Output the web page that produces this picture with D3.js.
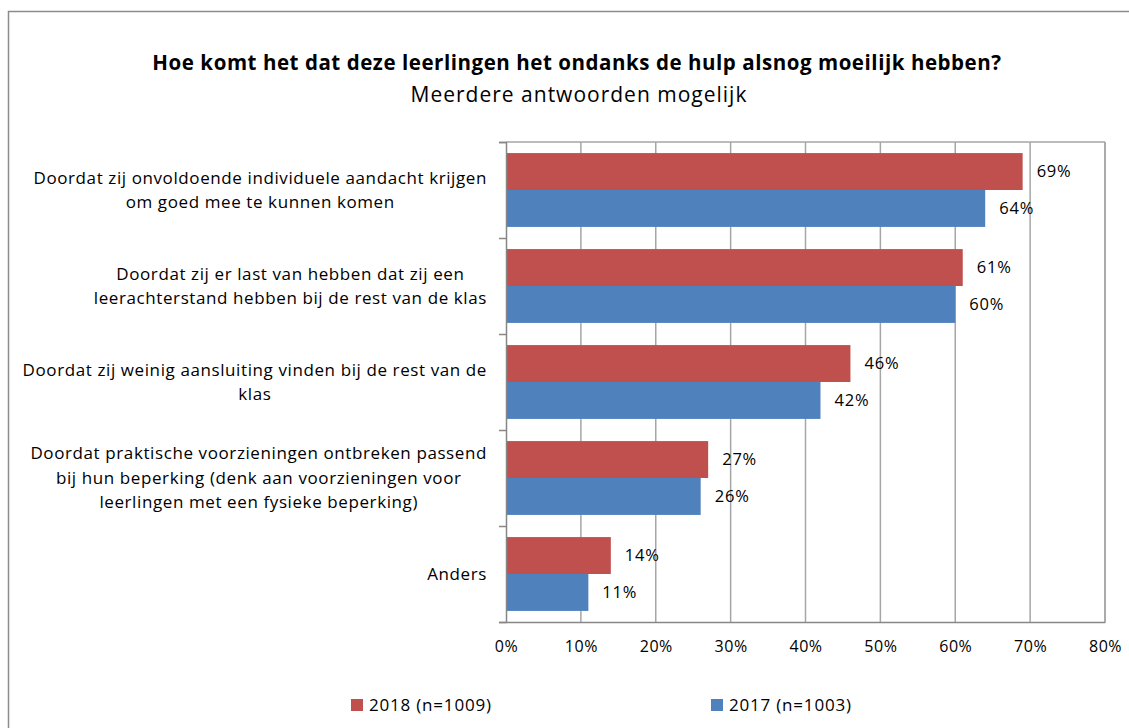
<!DOCTYPE html>
<html>
<head>
<meta charset="utf-8">
<script src="https://cdn.jsdelivr.net/npm/d3@7"></script>
<style>
  body { margin: 0; background: #fff; }
  text { font-family: "Open Sans", "Noto Sans", sans-serif; fill: #000; }
</style>
</head>
<body>
<div id="chart"></div>
<script>
// categories (each entry is a list of the wrapped lines)
var categories = [
  ["Doordat zij onvoldoende individuele aandacht krijgen", "om goed mee te kunnen komen"],
  ["Doordat zij er last van hebben dat zij een", "leerachterstand hebben bij de rest van de klas"],
  ["Doordat zij weinig aansluiting vinden bij de rest van de", "klas"],
  ["Doordat praktische voorzieningen ontbreken passend", "bij hun beperking (denk aan voorzieningen voor", "leerlingen met een fysieke beperking)"],
  ["Anders"]
];
var series = ["2018 (n=1009)", "2017 (n=1003)"];
var values2018 = [69, 61, 46, 27, 14];
var values2017 = [64, 60, 42, 26, 11];
var xTicks = [0, 10, 20, 30, 40, 50, 60, 70, 80];
var colors = ["#C0504D", "#4F81BD"];

var W = 1129, H = 728;
var margin = {top: 142, left: 506, right: 24, bottom: 106};
var width = W - margin.left - margin.right,   // 599
    height = H - margin.top - margin.bottom;  // 480

var svg = d3.select("#chart").append("svg")
    .attr("width", W)
    .attr("height", H);

// outer frame
svg.append("rect")
    .attr("x", 8.5).attr("y", 11.5)
    .attr("width", W + 20).attr("height", H + 20)
    .attr("fill", "none")
    .attr("stroke", "#8c8c8c")
    .attr("stroke-width", 1.5);

// title
svg.append("text")
    .attr("x", 577).attr("y", 70)
    .attr("text-anchor", "middle")
    .style("font-size", "20.5px")
    .style("font-weight", "bold")
    .style("letter-spacing", "0.55px")
    .text("Hoe komt het dat deze leerlingen het ondanks de hulp alsnog moeilijk hebben?");
svg.append("text")
    .attr("x", 579).attr("y", 102)
    .attr("text-anchor", "middle")
    .style("font-size", "21px")
    .style("letter-spacing", "1px")
    .text("Meerdere antwoorden mogelijk");

var g = svg.append("g")
    .attr("transform", "translate(" + margin.left + "," + margin.top + ")");

var x = d3.scaleLinear().domain([0, 80]).range([0, width]);
var y0 = d3.scaleBand().domain(d3.range(categories.length)).range([0, height]);
var y1 = d3.scaleBand().domain([0, 1]).range([0, y0.bandwidth()]).paddingOuter(0.3);

// gridlines
g.selectAll("line.grid")
    .data(xTicks.slice(1))
  .enter().append("line")
    .attr("class", "grid")
    .attr("x1", function(d) { return x(d); })
    .attr("x2", function(d) { return x(d); })
    .attr("y1", 0).attr("y2", height)
    .attr("stroke", "#a6a6a6")
    .attr("stroke-width", 1.5);
// top border of plot
g.append("line")
    .attr("x1", 0).attr("x2", width)
    .attr("y1", 0).attr("y2", 0)
    .attr("stroke", "#a6a6a6")
    .attr("stroke-width", 1.5);

// bars
var data = categories.map(function(c, i) {
  return [values2018[i], values2017[i]];
});
var groups = g.selectAll("g.cat")
    .data(data)
  .enter().append("g")
    .attr("class", "cat")
    .attr("transform", function(d, i) { return "translate(0," + y0(i) + ")"; });

groups.selectAll("rect")
    .data(function(d) { return d; })
  .enter().append("rect")
    .attr("x", x(0))
    .attr("y", function(d, j) { return y1(j); })
    .attr("width", function(d) { return x(d) - x(0); })
    .attr("height", y1.bandwidth())
    .attr("fill", function(d, j) { return colors[j]; });

groups.selectAll("text.val")
    .data(function(d) { return d; })
  .enter().append("text")
    .attr("class", "val")
    .attr("x", function(d) { return x(d) + 14; })
    .attr("y", function(d, j) { return y1(j) + y1.bandwidth() / 2; })
    .attr("dy", "0.35em")
    .style("font-size", "16.5px")
    .style("letter-spacing", "0.8px")
    .text(function(d) { return d + "%"; });

// left axis
var yAxis = d3.axisLeft(d3.scaleLinear().domain([0, categories.length]).range([0, height]))
    .tickValues(d3.range(categories.length + 1))
    .tickSize(7)
    .tickFormat("");
var ya = g.append("g").call(yAxis);
ya.select(".domain").attr("stroke", "#868686").attr("stroke-width", 1.5);
ya.selectAll(".tick line").attr("stroke", "#868686").attr("stroke-width", 1.5);

// bottom axis
var xAxis = d3.axisBottom(x)
    .tickValues(xTicks)
    .tickSize(0)
    .tickPadding(19)
    .tickFormat(function(d) { return d + "%"; });
var xa = g.append("g")
    .attr("transform", "translate(0," + height + ")")
    .call(xAxis);
xa.select(".domain").attr("stroke", "#868686").attr("stroke-width", 1.5);
xa.selectAll(".tick text")
    .style("font-size", "16px")
    .style("letter-spacing", "0.5px")
    .style("font-family", "'Open Sans', sans-serif")
    .attr("fill", "#000");
// right border of plot
g.append("line")
    .attr("x1", width).attr("x2", width)
    .attr("y1", 0).attr("y2", height)
    .attr("stroke", "#a6a6a6")
    .attr("stroke-width", 1.5);

// category labels: lines centered inside a block whose right edge sits at x = -19
var lineH = 24.5;
categories.forEach(function(lines, i) {
  var cy = y0(i) + y0.bandwidth() / 2;
  var t = g.append("text")
      .attr("text-anchor", "middle")
      .style("font-size", "17px")
      .style("letter-spacing", "0.6px");
  var spans = lines.map(function(l, k) {
    return t.append("tspan")
        .attr("y", cy + (k - (lines.length - 1) / 2) * lineH)
        .attr("dy", "0.35em")
        .text(l);
  });
  var maxW = d3.max(spans, function(s) { return s.node().getComputedTextLength(); });
  spans.forEach(function(s) { s.attr("x", -19 - maxW / 2); });
});

// legend
var legX = [351, 711];
var leg = svg.selectAll("g.leg")
    .data(series)
  .enter().append("g")
    .attr("class", "leg")
    .attr("transform", function(d, i) { return "translate(" + legX[i] + ",699)"; });
leg.append("rect")
    .attr("width", 12).attr("height", 12)
    .attr("fill", function(d, i) { return colors[i]; });
leg.append("text")
    .attr("x", 18).attr("y", 6)
    .attr("dy", "0.35em")
    .style("font-size", "17px")
    .style("letter-spacing", "0.8px")
    .text(function(d) { return d; });
</script>
</body>
</html>
